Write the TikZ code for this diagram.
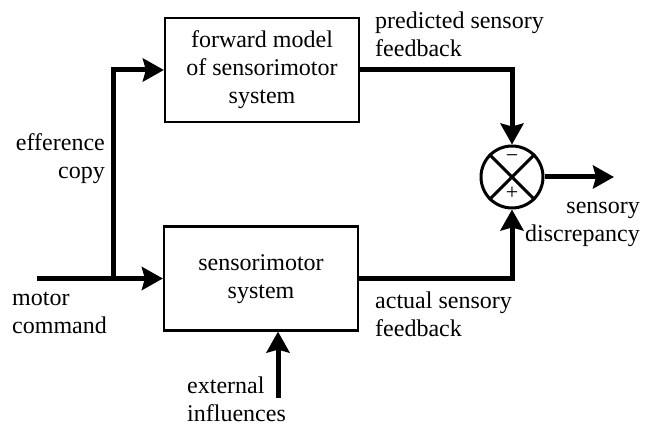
\documentclass[tikz,border=0pt]{standalone}
\usepackage{fontspec}
\setmainfont{Liberation Serif}
\usetikzlibrary{arrows.meta}
\begin{document}
\begin{tikzpicture}[x=1pt,y=1pt,
  every node/.style={font=\rmfamily\fontsize{24}{28}\selectfont},
  blockbox/.style={draw,line width=2.2pt,minimum width=194pt,minimum height=104pt,align=center,inner sep=0pt},
  lbl/.style={inner sep=0pt},
  flow/.style={line width=5pt,-{Stealth[length=21pt,width=23pt,inset=3pt]}},
  plainflow/.style={line width=5pt}
]
\useasboundingbox (0,0) rectangle (657,-427);
\node[blockbox] (fwd) at (262,-70) {\strut forward model\\\strut of sensorimotor\\\strut system};
\node[blockbox] (sys) at (261,-278.5) {\strut sensorimotor\\\strut system};
\node[draw,circle,line width=3pt,minimum size=62pt,inner sep=0pt] (sum) at (512,-177) {};
\draw[line width=3pt] (sum.north west) -- (sum.south east);
\draw[line width=3pt] (sum.north east) -- (sum.south west);
\node[font=\rmfamily\fontsize{22}{24}\selectfont,inner sep=0pt] (minus) at (512,-159) {−};
\node[font=\rmfamily\fontsize{22}{24}\selectfont,inner sep=0pt] (plus) at (512,-193) {+};
\coordinate (mc) at (37,-278.5);
\coordinate (j) at (113,-278.5);
\coordinate (out) at (614,-177);
\coordinate (ext) at (278,-398);
\draw[plainflow] (mc) -- (j);
\draw[flow] (j) -- (sys.west);
\draw[flow] (j) |- (fwd.west);
\draw[flow] (fwd.east) -| (sum.north);
\draw[flow] (sys.east) -| (sum.south);
\draw[flow] (sum.east) -- (out);
\draw[flow] (ext) -- (ext |- sys.south);
\node[lbl,anchor=north west,align=left] (pred) at (375,-8.4) {\strut predicted sensory\\\strut feedback};
\node[lbl,anchor=north east,align=right] (eff) at (105,-130.4) {\strut efference\\\strut copy};
\node[lbl,anchor=north east,align=right] (disc) at (640,-193.4) {\strut sensory\\\strut discrepancy};
\node[lbl,anchor=north west,align=left] (mot) at (12,-285.4) {\strut motor\\\strut command};
\node[lbl,anchor=north west,align=left] (act) at (375,-288.4) {\strut actual sensory\\\strut feedback};
\node[lbl,anchor=north west,align=left] (extl) at (187,-373.4) {\strut external\\\strut influences};
\end{tikzpicture}
\end{document}
